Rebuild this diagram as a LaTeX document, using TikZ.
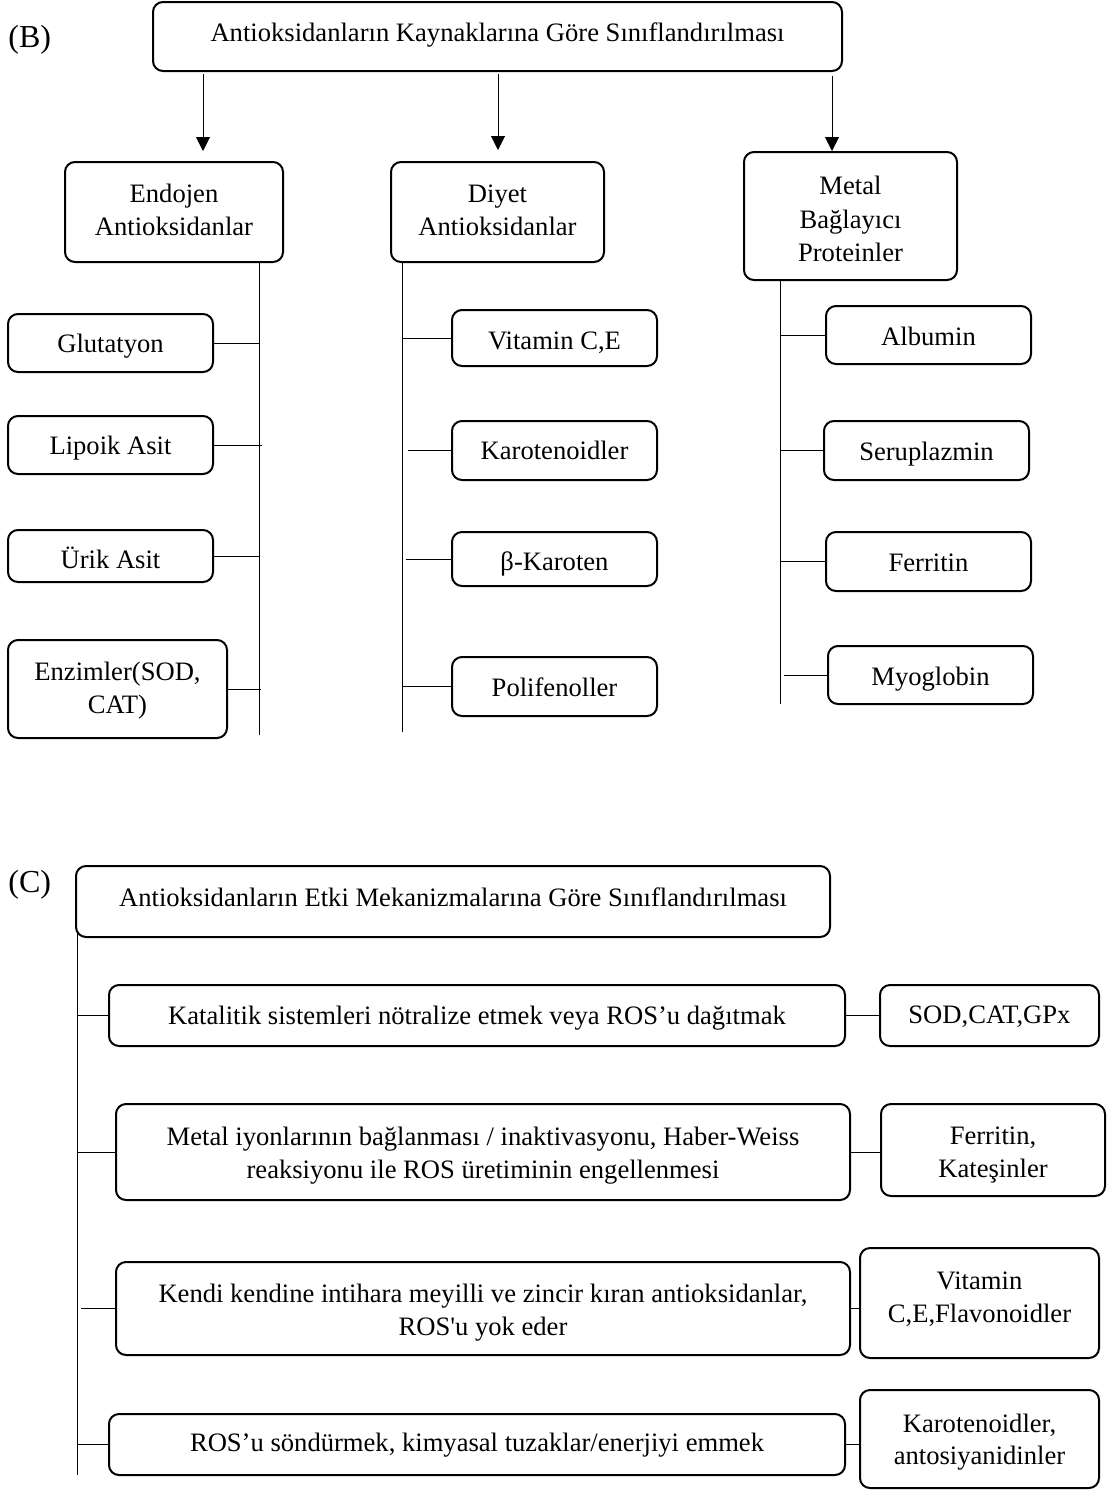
\documentclass[tikz,border=0pt]{standalone}
\usepackage{fontspec}
\setmainfont{Liberation Serif}
\usetikzlibrary{arrows.meta,calc}
\tikzset{
 box/.style={draw, line width=1pt, rounded corners=5pt, inner sep=0pt},
 txt/.style={inner sep=0pt, text height=8.8pt, text depth=0pt, font=\fontsize{13.3}{16.5}\selectfont},
 conn/.style={line width=0.5pt},
 arr/.style={line width=0.5pt, -{Triangle[width=7pt,length=7pt]}},
 lbl/.style={anchor=west, inner sep=0pt, font=\fontsize{16}{19}\selectfont},
}
\newcommand\bx[5]{\node[box, minimum width={(#4-#2)*0.5pt}, minimum height={(#5-#3)*0.5pt}] (#1) at ({(#2+#4)/2},{(#3+#5)/2}) {};}
\newcommand\tl[4]{\node[txt] (#1) at (#2.center |- 0,#3) {#4};}
\begin{document}
\begin{tikzpicture}[x=0.5pt,y=-0.5pt]
\useasboundingbox (0,0) rectangle (1109,1490);

% ---------- (B) ----------
\node[lbl] (lb) at (8,40) {(B)};
\bx{top}{153}{2}{842}{71}
\tl{top-t}{top}{32.5}{Antioksidanların Kaynaklarına Göre Sınıflandırılması}
\bx{endo}{65}{162}{283}{262}
\tl{endo-t1}{endo}{194}{Endojen}
\tl{endo-t2}{endo}{226.5}{Antioksidanlar}
\bx{diyet}{391}{162}{604}{262}
\tl{diyet-t1}{diyet}{194}{Diyet}
\tl{diyet-t2}{diyet}{226.5}{Antioksidanlar}
\bx{metal}{744}{152}{957}{280}
\tl{metal-t1}{metal}{186}{Metal}
\tl{metal-t2}{metal}{219.5}{Bağlayıcı}
\tl{metal-t3}{metal}{253}{Proteinler}

\coordinate (a1) at (203,0);
\coordinate (a2) at (498,0);
\coordinate (a3) at (832,0);
\draw[arr, shorten <=1pt] (top.south -| a1) -- ($(endo.north -| a1)+(0,-10)$);
\draw[arr, shorten <=1pt] (top.south -| a2) -- ($(diyet.north -| a2)+(0,-11)$);
\draw[arr, shorten <=2pt] (top.south -| a3) -- (metal.north -| a3);

% Endojen children
\bx{glut}{8}{314}{213}{372}
\tl{glut-t}{glut}{344}{Glutatyon}
\bx{lipo}{8}{416}{213}{474}
\tl{lipo-t}{lipo}{446}{Lipoik Asit}
\bx{urik}{8}{530}{213}{582}
\tl{urik-t}{urik}{559.5}{Ürik Asit}
\bx{enz}{8}{640}{227}{738}
\tl{enz-t1}{enz}{672}{Enzimler(SOD,}
\tl{enz-t2}{enz}{704.5}{CAT)}
\coordinate (eb) at (259,735);
\draw[conn] (endo.south -| eb) -- (eb);
\draw[conn] (glut.east) -- (glut.east -| eb);
\draw[conn] (lipo.east) -- ($(lipo.east -| eb)+(3,0)$);
\draw[conn] (urik.east) -- (urik.east -| eb);
\draw[conn] (enz.east) -- ($(enz.east -| eb)+(2,0)$);

% Diyet children
\bx{vit}{452}{310}{657}{366}
\tl{vit-t}{vit}{341}{Vitamin C,E}
\bx{karo}{452}{421}{657}{480}
\tl{karo-t}{karo}{451}{Karotenoidler}
\bx{beta}{452}{532}{657}{586}
\tl{beta-t}{beta}{561.5}{β-Karoten}
\bx{poli}{452}{657}{657}{716}
\tl{poli-t}{poli}{687.5}{Polifenoller}
\coordinate (db) at (402,732);
\draw[conn] (diyet.south -| db) -- (db);
\draw[conn] (vit.west) -- (vit.west -| db);
\draw[conn] (karo.west) -- ($(karo.west -| db)+(6,0)$);
\draw[conn] (beta.west) -- ($(beta.west -| db)+(4,0)$);
\draw[conn] (poli.west) -- (poli.west -| db);

% Metal children
\bx{alb}{826}{306}{1031}{364}
\tl{alb-t}{alb}{337}{Albumin}
\bx{seru}{824}{421}{1029}{480}
\tl{seru-t}{seru}{452}{Seruplazmin}
\bx{ferr}{826}{532}{1031}{591}
\tl{ferr-t}{ferr}{563}{Ferritin}
\bx{myo}{828}{646}{1033}{704}
\tl{myo-t}{myo}{677}{Myoglobin}
\coordinate (mb) at (780,704);
\draw[conn] (metal.south -| mb) -- (mb);
\draw[conn] (alb.west) -- (alb.west -| mb);
\draw[conn] (seru.west) -- (seru.west -| mb);
\draw[conn] (ferr.west) -- (ferr.west -| mb);
\draw[conn] (myo.west) -- ($(myo.west -| mb)+(4,0)$);

% ---------- (C) ----------
\node[lbl] (lc) at (8,885) {(C)};
\bx{ctop}{76}{866}{830}{937}
\tl{ctop-t}{ctop}{898}{Antioksidanların Etki Mekanizmalarına Göre Sınıflandırılması}
\coordinate (cb) at (77,1475);
\draw[conn] ($(ctop.south -| cb)+(0,-6)$) -- (cb);

\bx{r1}{109}{985}{845}{1046}
\tl{r1-t}{r1}{1016}{Katalitik sistemleri nötralize etmek veya ROS’u dağıtmak}
\bx{r2}{116}{1104}{850}{1200}
\tl{r2-t1}{r2}{1137}{Metal iyonlarının bağlanması / inaktivasyonu, Haber-Weiss}
\tl{r2-t2}{r2}{1169.5}{reaksiyonu ile ROS üretiminin engellenmesi}
\bx{r3}{116}{1262}{850}{1355}
\tl{r3-t1}{r3}{1294}{Kendi kendine intihara meyilli ve zincir kıran antioksidanlar,}
\tl{r3-t2}{r3}{1326.5}{ROS\textquotesingle u yok eder}
\bx{r4}{109}{1414}{845}{1475}
\tl{r4-t}{r4}{1443}{ROS’u söndürmek, kimyasal tuzaklar/enerjiyi emmek}

\bx{s1}{880}{985}{1099}{1046}
\tl{s1-t}{s1}{1015}{SOD,CAT,GPx}
\bx{s2}{881}{1104}{1105}{1196}
\tl{s2-t1}{s2}{1136}{Ferritin,}
\tl{s2-t2}{s2}{1168.5}{Kateşinler}
\bx{s3}{860}{1248}{1099}{1358}
\tl{s3-t1}{s3}{1281}{Vitamin}
\tl{s3-t2}{s3}{1314}{C,E,Flavonoidler}
\bx{s4}{860}{1390}{1099}{1488}
\tl{s4-t1}{s4}{1423.5}{Karotenoidler,}
\tl{s4-t2}{s4}{1456}{antosiyanidinler}

\draw[conn] (r1.west) -- (r1.west -| cb);
\draw[conn] (r2.west) -- (r2.west -| cb);
\draw[conn] (r3.west) -- ($(r3.west -| cb)+(4,0)$);
\draw[conn] (r4.west) -- (r4.west -| cb);

\draw[conn] (r1.east) -- (r1.east -| s1.west);
\draw[conn] (r2.east) -- (r2.east -| s2.west);
\draw[conn] (r3.east) -- (r3.east -| s3.west);
\draw[conn] (r4.east) -- (r4.east -| s4.west);
\end{tikzpicture}
\end{document}
